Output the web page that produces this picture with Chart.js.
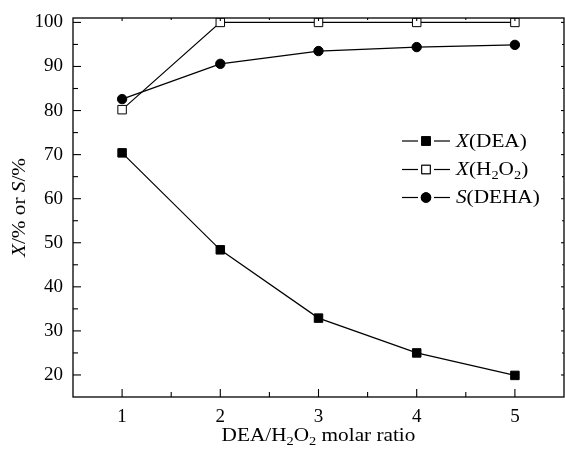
<!DOCTYPE html>
<html>
<head>
<meta charset="utf-8">
<script src="https://cdn.jsdelivr.net/npm/chart.js@4/dist/chart.umd.min.js"></script>
<style>
  html, body { margin: 0; padding: 0; background: #fff; }
  canvas { display: block; }
</style>
</head>
<body>
<canvas id="c" width="565" height="453"></canvas>
<script>
// Molar ratio DEA/H2O2 on the x axis
const ratios = [1, 2, 3, 4, 5];
// Conversion of DEA (%)
const convDEA = [70.4, 48.4, 32.9, 25.0, 19.9];
// Conversion of H2O2 (%)
const convH2O2 = [80.2, 100, 100, 100, 100];
// Selectivity to DEHA (%)
const selDEHA = [82.6, 90.6, 93.5, 94.4, 94.9];

// Tick values
const xTicks = [1, 2, 3, 4, 5];
const xMinor = [1.5, 2.5, 3.5, 4.5];
const yTicks = [20, 30, 40, 50, 60, 70, 80, 90, 100];
const yMinor = [25, 35, 45, 55, 65, 75, 85, 95];

const FONT = "'Liberation Serif', 'Times New Roman', serif";
const TEXT_SIZE = 18;
const STRETCH = 1.18;

function toPoints(xs, ys) { return xs.map((x, i) => ({ x: x, y: ys[i] })); }

// Text runs (italic / subscript) laid out left to right from x on baseline y
function runsWidth(ctx, runs, size) {
  let w = 0;
  runs.forEach(r => {
    const s = r.sub ? size * 0.68 : size;
    ctx.font = (r.italic ? 'italic ' : '') + s + 'px ' + FONT;
    w += ctx.measureText(r.t).width * STRETCH;
  });
  return w;
}
function drawRuns(ctx, runs, x, y, size) {
  let cx = x;
  runs.forEach(r => {
    const s = r.sub ? size * 0.68 : size;
    ctx.font = (r.italic ? 'italic ' : '') + s + 'px ' + FONT;
    const w = ctx.measureText(r.t).width * STRETCH;
    ctx.save();
    ctx.translate(cx, y + (r.sub ? size * 0.22 : 0));
    ctx.scale(STRETCH, 1);
    ctx.textBaseline = 'alphabetic';
    ctx.textAlign = 'left';
    ctx.fillText(r.t, 0, 0);
    ctx.restore();
    cx += w;
  });
}

const yTitleRuns = [{ t: 'X', italic: true }, { t: '/% or ' }, { t: 'S', italic: true }, { t: '/%' }];
const xTitleRuns = [{ t: 'DEA/H' }, { t: '2', sub: true }, { t: 'O' }, { t: '2', sub: true }, { t: ' molar ratio' }];
const legendRuns = [
  [{ t: 'X', italic: true }, { t: '(DEA)' }],
  [{ t: 'X', italic: true }, { t: '(H' }, { t: '2', sub: true }, { t: 'O' }, { t: '2', sub: true }, { t: ')' }],
  [{ t: 'S', italic: true }, { t: '(DEHA)' }]
];

// Box frame, inward ticks, axis titles and in-plot legend
const decorations = {
  id: 'decorations',
  afterDraw(chart) {
    const ctx = chart.ctx;
    const a = chart.chartArea;
    const xs = chart.scales.x, ys = chart.scales.y;
    ctx.save();
    ctx.strokeStyle = '#000';
    ctx.fillStyle = '#000';
    ctx.lineWidth = 1.3;
    ctx.strokeRect(a.left, a.top, a.right - a.left, a.bottom - a.top);

    const seg = (x1, y1, x2, y2) => { ctx.beginPath(); ctx.moveTo(x1, y1); ctx.lineTo(x2, y2); ctx.stroke(); };
    ctx.lineWidth = 1.1;
    xTicks.forEach(v => { const p = xs.getPixelForValue(v); seg(p, a.bottom, p, a.bottom - 8); seg(p, a.top, p, a.top + 3); });
    xMinor.forEach(v => { const p = xs.getPixelForValue(v); seg(p, a.bottom, p, a.bottom - 5); seg(p, a.top, p, a.top + 2); });
    yTicks.forEach(v => { const p = ys.getPixelForValue(v); seg(a.left, p, a.left + 8, p); seg(a.right, p, a.right - 3, p); });
    yMinor.forEach(v => { const p = ys.getPixelForValue(v); seg(a.left, p, a.left + 5, p); seg(a.right, p, a.right - 2, p); });

    // x-axis title, centred under the plot
    const xw = runsWidth(ctx, xTitleRuns, TEXT_SIZE);
    drawRuns(ctx, xTitleRuns, (a.left + a.right) / 2 - xw / 2, 441, TEXT_SIZE);

    // y-axis title, rotated
    ctx.save();
    ctx.translate(25, (a.top + a.bottom) / 2);
    ctx.rotate(-Math.PI / 2);
    const yw = runsWidth(ctx, yTitleRuns, TEXT_SIZE);
    drawRuns(ctx, yTitleRuns, -yw / 2, 0, TEXT_SIZE);
    ctx.restore();

    // legend: line – marker – line, then label
    const lx0 = a.right - 162, lx1 = a.right - 114, tx = a.right - 108;
    const rows = [141, 169.5, 197.5];
    chart.data.datasets.forEach((ds, i) => {
      const yy = rows[i];
      const mx = (lx0 + lx1) / 2;
      ctx.lineWidth = 1.2;
      seg(lx0, yy, mx - 8, yy);
      seg(mx + 8, yy, lx1, yy);
      Chart.helpers.drawPoint(ctx, {
        pointStyle: ds.pointStyle, radius: ds.pointRadius, rotation: 0,
        borderWidth: ds.pointBorderWidth
      }, mx, yy);
      ctx.fillStyle = ds.pointBackgroundColor;
      ctx.strokeStyle = '#000';
      ctx.lineWidth = ds.pointBorderWidth;
      ctx.fill();
      ctx.stroke();
      ctx.fillStyle = '#000';
      drawRuns(ctx, legendRuns[i], tx, yy + TEXT_SIZE * 0.33, TEXT_SIZE);
    });
    ctx.restore();
  }
};

const commonLine = { borderColor: '#000', borderWidth: 1.2, pointBorderColor: '#000', pointBorderWidth: 1, tension: 0 };

new Chart(document.getElementById('c'), {
  type: 'line',
  data: {
    datasets: [
      Object.assign({ label: 'X(DEA)', data: toPoints(ratios, convDEA), pointStyle: 'rect', pointRadius: 6, pointBackgroundColor: '#000' }, commonLine),
      Object.assign({ label: 'X(H2O2)', data: toPoints(ratios, convH2O2), pointStyle: 'rect', pointRadius: 6, pointBackgroundColor: '#fff' }, commonLine),
      Object.assign({ label: 'S(DEHA)', data: toPoints(ratios, selDEHA), pointStyle: 'circle', pointRadius: 4.7, pointBackgroundColor: '#000' }, commonLine)
    ]
  },
  options: {
    responsive: false,
    animation: false,
    devicePixelRatio: 1,
    layout: { autoPadding: false, padding: { top: 18, right: 1, left: 0, bottom: 0 } },
    plugins: { legend: { display: false }, tooltip: { enabled: false } },
    scales: {
      x: {
        type: 'linear', min: 0.5, max: 5.5,
        afterBuildTicks: s => { s.ticks = xTicks.map(v => ({ value: v })); },
        afterFit: s => { s.height = 56; s.paddingLeft = 0; s.paddingRight = 0; },
        grid: { display: false, drawTicks: false },
        border: { display: false },
        ticks: { color: '#000', padding: 9, font: { family: FONT, size: 19 } }
      },
      y: {
        type: 'linear', min: 15, max: 101,
        afterBuildTicks: s => { s.ticks = yTicks.map(v => ({ value: v })); },
        afterFit: s => { s.width = 73; s.paddingTop = 0; s.paddingBottom = 0; },
        grid: { display: false, drawTicks: false },
        border: { display: false },
        ticks: { color: '#000', padding: 10, font: { family: FONT, size: 19 } }
      }
    }
  },
  plugins: [decorations]
});
</script>
</body>
</html>
